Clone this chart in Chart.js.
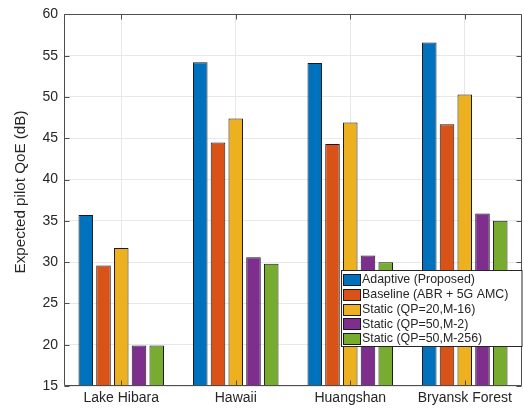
<!DOCTYPE html>
<html>
<head>
<meta charset="utf-8">
<script src="https://cdn.jsdelivr.net/npm/chart.js@4"></script>
<style>
  html, body { margin: 0; padding: 0; background: #fff; }
  #wrap { width: 524px; height: 408px; }
</style>
</head>
<body>
<div id="wrap"><canvas id="c" width="524" height="408"></canvas></div>
<script>
const categories = ['Lake Hibara', 'Hawaii', 'Huangshan', 'Bryansk Forest'];
const seriesNames = ['Adaptive (Proposed)', 'Baseline (ABR + 5G AMC)', 'Static (QP=20,M-16)', 'Static (QP=50,M-2)', 'Static (QP=50,M-256)'];
const adaptive = [35.7, 54.2, 54.1, 56.6];
const baseline = [29.6, 44.5, 44.3, 46.7];
const staticQP20M16 = [31.7, 47.4, 46.9, 50.3];
const staticQP50M2 = [19.9, 30.6, 30.8, 35.9];
const staticQP50M256 = [19.9, 29.8, 30.0, 35.0];
const yTicks = [15, 20, 25, 30, 35, 40, 45, 50, 55, 60];
const yTitle = 'Expected pilot QoE (dB)';

const colors = ['#0072BD', '#D95319', '#EDB120', '#7E2F8E', '#77AC30'];
const seriesValues = [adaptive, baseline, staticQP20M16, staticQP50M2, staticQP50M256];
const FONT = 'Liberation Sans, Arial, Helvetica, sans-serif';
const TEXT = '#262626';
const AXIS = '#4d4d4d';

const matlabPlugin = {
  id: 'matlab',
  afterDatasetsDraw(chart) {
    const ctx = chart.ctx;
    const a = chart.chartArea;
    const xs = chart.scales.x, ys = chart.scales.y;
    ctx.save();
    ctx.strokeStyle = AXIS;
    ctx.lineWidth = 1;
    const L = Math.round(a.left) + 0.5, R = Math.round(a.right) - 0.5;
    const T = Math.round(a.top) + 0.5, B = Math.round(a.bottom) - 0.5;
    ctx.beginPath();
    ctx.rect(L, T, R - L, B - T);
    const tl = 5;
    categories.forEach((c, i) => {
      const x = Math.round(xs.getPixelForValue(i)) + 0.5;
      ctx.moveTo(x, B); ctx.lineTo(x, B - tl);
      ctx.moveTo(x, T); ctx.lineTo(x, T + tl);
    });
    yTicks.forEach(v => {
      const y = Math.round(ys.getPixelForValue(v)) + 0.5;
      ctx.moveTo(L, y); ctx.lineTo(L + tl, y);
      ctx.moveTo(R, y); ctx.lineTo(R - tl, y);
    });
    ctx.stroke();

    ctx.fillStyle = TEXT;
    ctx.font = '15.2px ' + FONT;
    ctx.textAlign = 'center';
    ctx.textBaseline = 'middle';
    ctx.translate(21, 192);
    ctx.rotate(-Math.PI / 2);
    ctx.fillText(yTitle, 0, 0);
    ctx.restore();

    ctx.save();
    const lx = 341.5, ly = 270.5, lw = 180.5, lh = 76;
    ctx.fillStyle = '#fff';
    ctx.fillRect(lx, ly, lw, lh);
    ctx.strokeStyle = '#262626';
    ctx.lineWidth = 1;
    ctx.strokeRect(lx, ly, lw, lh);
    ctx.font = '12.4px ' + FONT;
    ctx.textAlign = 'left';
    ctx.textBaseline = 'middle';
    chart.data.datasets.forEach((ds, i) => {
      const cy = 279.5 + i * 14.75;
      const sy = Math.round(cy - 5.5) + 0.5;
      ctx.fillStyle = ds.backgroundColor;
      ctx.fillRect(343.5, sy, 17, 11);
      ctx.strokeStyle = '#1a1a1a';
      ctx.strokeRect(343.5, sy, 17, 11);
      ctx.fillStyle = TEXT;
      ctx.fillText(ds.label, 362, cy + 0.5);
    });
    ctx.restore();
  }
};

new Chart(document.getElementById('c'), {
  type: 'bar',
  data: {
    labels: categories,
    datasets: seriesNames.map((n, i) => ({
      label: n,
      data: seriesValues[i],
      backgroundColor: colors[i],
      borderColor: '#1a1a1a',
      borderWidth: 1,
      categoryPercentage: 0.775,
      barPercentage: 0.82
    }))
  },
  options: {
    responsive: false,
    animation: false,
    devicePixelRatio: 1,
    layout: { padding: { top: 7, right: 2, left: 0, bottom: 0 } },
    plugins: { legend: { display: false }, tooltip: { enabled: false } },
    scales: {
      x: {
        type: 'category',
        offset: true,
        grid: { display: true, offset: false, color: '#e8e8e8', tickLength: 0, drawTicks: false },
        border: { display: false },
        ticks: { color: TEXT, font: { family: FONT, size: 14 }, padding: 4, maxRotation: 0 },
        afterFit(s) { s.height = 22; }
      },
      y: {
        min: 15, max: 60,
        afterBuildTicks(s) { s.ticks = yTicks.map(v => ({ value: v })); },
        grid: { color: '#e8e8e8', tickLength: 0, drawTicks: false },
        border: { display: false },
        ticks: { color: TEXT, font: { family: FONT, size: 14 }, padding: 6 },
        afterFit(s) { s.width = 64; }
      }
    }
  },
  plugins: [matlabPlugin]
});
</script>
</body>
</html>
